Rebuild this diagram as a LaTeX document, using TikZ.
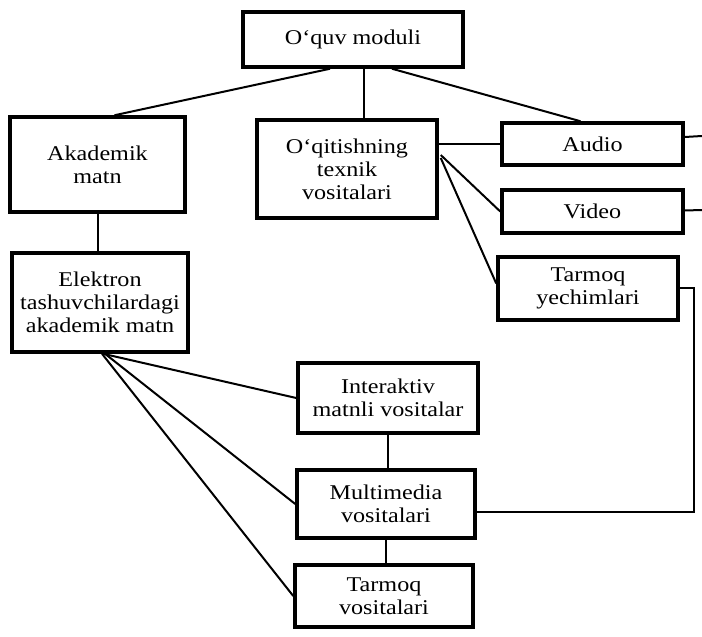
\documentclass[tikz,border=0pt]{standalone}
\usepackage{fontspec}
\setmainfont{Liberation Serif}[FakeStretch=1.15]
\begin{document}
\begin{tikzpicture}[x=1pt,y=-1pt,
  box/.style={draw, line width=3.5pt, align=center, inner sep=2pt,
    font=\fontsize{21}{23}\selectfont},
  link/.style={line width=2pt}]
\useasboundingbox (0,0) rectangle (702,637);
\node[box, minimum width=220pt, minimum height=55pt] (top) at (353,39.5) {O`quv moduli};
\node[box, minimum width=175pt, minimum height=95pt] (aka) at (97.5,164.5) {Akademik\\matn};
\node[box, minimum width=176pt, minimum height=99pt] (elek) at (100,302.5) {Elektron\\tashuvchilardagi\\akademik matn};
\node[box, minimum width=180pt, minimum height=98pt] (oqit) at (347,169) {O`qitishning\\texnik\\vositalari};
\node[box, minimum width=181pt, minimum height=42pt] (audio) at (592.5,144) {Audio};
\node[box, minimum width=181pt, minimum height=43pt] (video) at (592.5,211.5) {Video};
\node[box, minimum width=180pt, minimum height=63pt] (tyech) at (588,288.5) {Tarmoq\\yechimlari};
\node[box, minimum width=180pt, minimum height=70pt] (inter) at (388,398) {Interaktiv\\matnli vositalar};
\node[box, minimum width=178pt, minimum height=68pt] (multi) at (386,504) {Multimedia\\vositalari};
\node[box, minimum width=178pt, minimum height=62pt] (tvos) at (384,596) {Tarmoq\\vositalari};

\coordinate (ea) at (702,136);
\coordinate (ev) at (702,210);
\coordinate (rt) at (694,288);
\coordinate (rb) at (694,512);

\draw[link] ([xshift=-23pt]top.south) -- ([xshift=17pt]aka.north);
\draw[link] ([xshift=11pt]top.south) -- ([xshift=17pt]oqit.north);
\draw[link] ([xshift=39pt]top.south) -- ([xshift=-12pt]audio.north);
\draw[link] (aka.south) -- (aka.south |- elek.north);
\draw[link] (oqit.east |- audio.west) -- (audio.west);
\draw[link] ([yshift=14pt,xshift=2pt]oqit.east) -- (video.west);
\draw[link] ([yshift=11pt,xshift=2pt]oqit.east) -- ([yshift=5pt]tyech.west);
\draw[link] ([yshift=7pt]audio.east) -- (ea);
\draw[link] ([yshift=1pt]video.east) -- (ev);
\draw[link] (tyech.east |- rt) -- (rt) -- (rb) -- (multi.east |- rb);
\draw[link] ([xshift=3pt]elek.south) -- (inter.west);
\draw[link] ([xshift=5pt]elek.south) -- (multi.west);
\draw[link] ([xshift=2pt]elek.south) -- (tvos.west);
\draw[link] (inter.south) -- (inter.south |- multi.north);
\draw[link] (multi.south) -- (multi.south |- tvos.north);
\end{tikzpicture}
\end{document}
